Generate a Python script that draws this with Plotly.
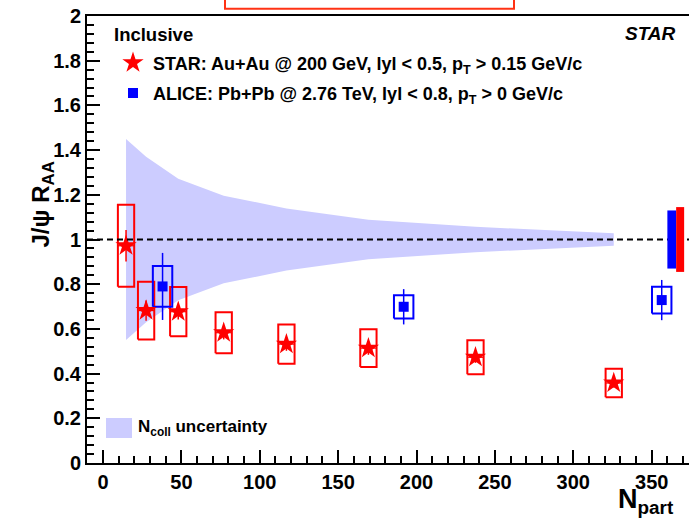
import plotly.graph_objects as go

# ---------------- data ----------------
star_npart = [14.7, 27.5, 48.0, 77.0, 117.0, 169.3, 237.6, 325.8]
star_raa = [0.972, 0.682, 0.677, 0.583, 0.532, 0.514, 0.473, 0.358]
star_stat = [0.07, 0.045, 0.035, 0.03, 0.03, 0.03, 0.025, 0.02]
star_sys = [0.183, 0.129, 0.11, 0.092, 0.088, 0.084, 0.076, 0.064]
ncoll_unc = [0.45, 0.37, 0.272, 0.196, 0.139, 0.088, 0.057, 0.028]

alice_npart = [38.0, 191.8, 356.4]
alice_raa = [0.79, 0.699, 0.729]
alice_stat = [0.15, 0.079, 0.09]
alice_sys = [0.091, 0.052, 0.06]

global_unc = {"ALICE": 0.13, "STAR": 0.145}

x_ticks = [0, 50, 100, 150, 200, 250, 300, 350]

# ---------------- style ----------------
FONT = "Liberation Sans, Arial, sans-serif"
RED = "rgb(255,0,0)"
BLUE = "rgb(0,0,255)"
BAND = "rgb(204,204,255)"
STAR_BOX_HW = 5.2
ALICE_BOX_HW = 6.2
X_RANGE = [-10.2, 373.8]
L, T, W, H = 87, 16, 602, 447  # plot area in pixels


def px(x):
    return (x - L) / W


def py(y):
    return (T + H - y) / H


def box_path(xs, ys, es, hw):
    bx, by = [], []
    for x, y, e in zip(xs, ys, es):
        bx += [x - hw, x + hw, x + hw, x - hw, x - hw, None]
        by += [y - e, y - e, y + e, y + e, y - e, None]
    return bx, by


fig = go.Figure()

# Ncoll band
fig.add_trace(go.Scatter(
    x=star_npart + star_npart[::-1],
    y=[1 + u for u in ncoll_unc] + [1 - u for u in ncoll_unc[::-1]],
    fill="toself", fillcolor=BAND, line=dict(width=0, color=BAND),
    mode="lines", name="N<sub>coll</sub> uncertainty", showlegend=False,
    hoverinfo="skip"))

# systematic boxes
bx, by = box_path(star_npart, star_raa, star_sys, STAR_BOX_HW)
fig.add_trace(go.Scatter(x=bx, y=by, mode="lines", line=dict(color=RED, width=2),
                         showlegend=False, hoverinfo="skip"))
bx, by = box_path(alice_npart, alice_raa, alice_sys, ALICE_BOX_HW)
fig.add_trace(go.Scatter(x=bx, y=by, mode="lines", line=dict(color=BLUE, width=2),
                         showlegend=False, hoverinfo="skip"))

# data points
fig.add_trace(go.Scatter(
    x=star_npart, y=star_raa, mode="markers",
    marker=dict(symbol="star", size=16, color=RED, line=dict(width=0)),
    error_y=dict(type="data", array=star_stat, color=RED, thickness=1.5, width=0),
    error_x=dict(type="constant", value=STAR_BOX_HW, color=RED, thickness=1.2, width=0),
    name="STAR: Au+Au @ 200 GeV, lyl < 0.5, p<sub>T</sub> > 0.15 GeV/c",
    legendgroup="star"))
fig.add_trace(go.Scatter(
    x=alice_npart, y=alice_raa, mode="markers",
    marker=dict(symbol="square", size=10, color=BLUE, line=dict(width=0)),
    error_y=dict(type="data", array=alice_stat, color=BLUE, thickness=1.5, width=0),
    name="ALICE: Pb+Pb @ 2.76 TeV, lyl < 0.8, p<sub>T</sub> > 0 GeV/c",
    legendgroup="alice"))

shapes = []
# reference line at 1
shapes.append(dict(type="line", xref="paper", x0=0, x1=1, yref="y", y0=1, y1=1,
                   line=dict(color="black", width=2, dash="6px,4px"), layer="above"))
# global uncertainty boxes
gx0 = 360.0
gw = [5.6, 5.1]
for (name, u), col, w in zip(global_unc.items(), [BLUE, RED], gw):
    shapes.append(dict(type="rect", xref="x", yref="y", x0=gx0, x1=gx0 + w,
                       y0=1 - u, y1=1 + u, fillcolor=col, line=dict(width=0),
                       layer="above"))
    gx0 += w
# red frame at top (cut-off element)
shapes.append(dict(type="rect", xref="paper", yref="paper", x0=px(225), x1=px(514),
                   y0=py(8.8), y1=py(-10), line=dict(color="rgb(255,50,20)", width=2),
                   fillcolor="rgba(0,0,0,0)"))
# Ncoll legend swatch
shapes.append(dict(type="rect", xref="paper", yref="paper", x0=px(106), x1=px(132),
                   y0=py(438), y1=py(418), fillcolor=BAND, line=dict(width=0)))

annotations = [
    dict(text="J/ψ R<sub>AA</sub>", xref="paper", yref="paper", x=px(25), y=py(205),
         textangle=-90, showarrow=False,
         font=dict(family=FONT, size=24, color="black", weight="bold")),
    dict(text="N<sub>part</sub>", xref="paper", yref="paper", x=px(616), y=py(501),
         xanchor="left", yanchor="middle", showarrow=False,
         font=dict(family=FONT, size=27, color="black", weight="bold")),
    dict(text="<i>STAR</i>", xref="paper", yref="paper", x=px(650), y=py(33),
         xanchor="center", yanchor="middle", showarrow=False,
         font=dict(family=FONT, size=19, color="black", weight="bold")),
    dict(text="Inclusive", xref="paper", yref="paper", x=px(112), y=py(35),
         xanchor="left", yanchor="middle", showarrow=False,
         font=dict(family=FONT, size=18.5, color="black", weight="bold")),
    dict(text="N<sub>coll</sub> uncertainty", xref="paper", yref="paper", x=px(136), y=py(428),
         xanchor="left", yanchor="middle", showarrow=False,
         font=dict(family=FONT, size=17, color="black", weight="bold")),
]

fig.update_layout(
    width=689, height=518,
    margin=dict(l=L, r=0, t=T, b=518 - T - H),
    paper_bgcolor="white", plot_bgcolor="white",
    font=dict(family=FONT, color="black"),
    shapes=shapes, annotations=annotations,
    showlegend=True,
    legend=dict(x=px(113), y=py(78), xanchor="left", yanchor="middle",
                bgcolor="rgba(0,0,0,0)", borderwidth=0,
                font=dict(family=FONT, size=18, weight="bold"),
                traceorder="grouped", tracegroupgap=4),
    xaxis=dict(range=X_RANGE, tickvals=x_ticks, ticks="inside", ticklen=13, tickwidth=1.5,
               tickcolor="black", showline=True, linewidth=2, linecolor="black",
               mirror=True, showgrid=False, zeroline=False,
               tickfont=dict(family=FONT, size=20, weight="bold"),
               minor=dict(ticks="inside", ticklen=7, dtick=10, tick0=0, tickwidth=1.5,
                          tickcolor="black", showgrid=False)),
    yaxis=dict(range=[0, 2], dtick=0.2, tick0=0, ticks="inside", ticklen=13, tickwidth=1.5,
               tickcolor="black", showline=True, linewidth=2, linecolor="black",
               showgrid=False, zeroline=False,
               tickfont=dict(family=FONT, size=20, weight="bold"),
               minor=dict(ticks="inside", ticklen=7, dtick=0.04, tick0=0, tickwidth=1.5,
                          tickcolor="black", showgrid=False)),
)

fig.write_html("out.html")
